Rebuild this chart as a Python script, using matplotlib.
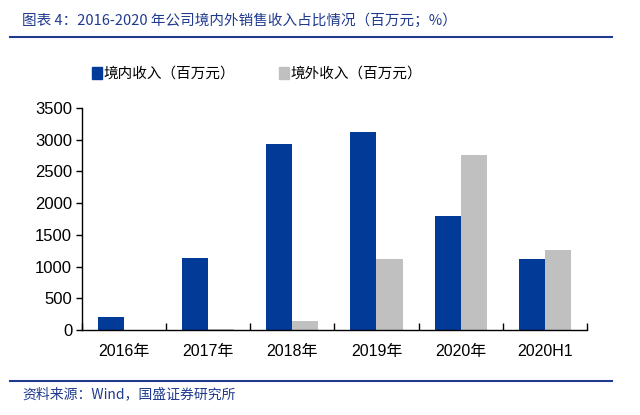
import matplotlib
matplotlib.use("Agg")
import matplotlib.pyplot as plt
import numpy as np
from matplotlib.lines import Line2D
from matplotlib.patches import Rectangle

plt.rcParams['font.family'] = ['Liberation Sans', 'Noto Sans CJK SC', 'DejaVu Sans']

categories = ["2016年", "2017年", "2018年", "2019年", "2020年", "2020H1"]
domestic = [200, 1130, 2940, 3115, 1800, 1115]
overseas = [0, 15, 142, 1115, 2760, 1260]
series_names = ["境内收入（百万元）", "境外收入（百万元）"]
title_text = "图表 4：2016-2020 年公司境内外销售收入占比情况（百万元；%）"
source_text = "资料来源：Wind，国盛证券研究所"

blue = "#023A97"
gray = "#C0C0C0"
txt_blue = "#1F3A8F"

fig = plt.figure(figsize=(6.4, 4.15), dpi=100)
ax = fig.add_axes([0.128, 0.2048, 0.789, 0.535])

x = np.arange(len(categories))
w = 0.31
ax.bar(x - w / 2, domestic, width=w, color=blue, label=series_names[0])
ax.bar(x + w / 2, overseas, width=w, color=gray, label=series_names[1])

ax.set_xlim(-0.5, len(categories) - 0.5)
ax.set_ylim(0, 3500)
ax.set_yticks(np.arange(0, 3501, 500))
ax.tick_params(axis='y', labelsize=12, length=4, width=1, direction='out', pad=3)
ax.set_xticks(x)
ax.set_xticklabels(categories, fontsize=11.5)
ax.tick_params(axis='x', length=0, pad=10)
ax.set_xticks(np.arange(-0.5, len(categories)), minor=True)
ax.tick_params(axis='x', which='minor', length=5, width=1, direction='in')
for s in ['top', 'right']:
    ax.spines[s].set_visible(False)
ax.spines['left'].set_linewidth(1)
ax.spines['bottom'].set_linewidth(1)

# Title, lines, source
fig.text(22 / 640, 1 - 20 / 415, title_text, fontsize=10.5, color=txt_blue,
         style='italic', va='center', ha='left',
         family=['Noto Sans CJK SC', 'DejaVu Sans'])
fig.add_artist(Line2D([10 / 640, 612 / 640], [1 - 37 / 415] * 2, color="#1F3A8F", lw=1.5))
fig.add_artist(Line2D([10 / 640, 612 / 640], [1 - 381 / 415] * 2, color="#1F3A8F", lw=1.5))
fig.text(22 / 640, 1 - 394 / 415, source_text, fontsize=10, color=txt_blue,
         style='italic', va='center', ha='left',
         family=['Noto Sans CJK SC', 'DejaVu Sans'])

# Legend
handles = [Rectangle((0, 0), 1, 1, color=blue), Rectangle((0, 0), 1, 1, color=gray)]
leg = fig.legend(handles, series_names, loc='center', bbox_to_anchor=(257 / 640, 1 - 74 / 415),
                 ncol=2, frameon=False, handlelength=0.7, handleheight=0.9,
                 handletextpad=0.1, columnspacing=3.0,
                 prop={'family': ['Noto Sans CJK SC', 'DejaVu Sans'], 'size': 10.5})

fig.savefig("out.png", dpi=100, facecolor='white')
